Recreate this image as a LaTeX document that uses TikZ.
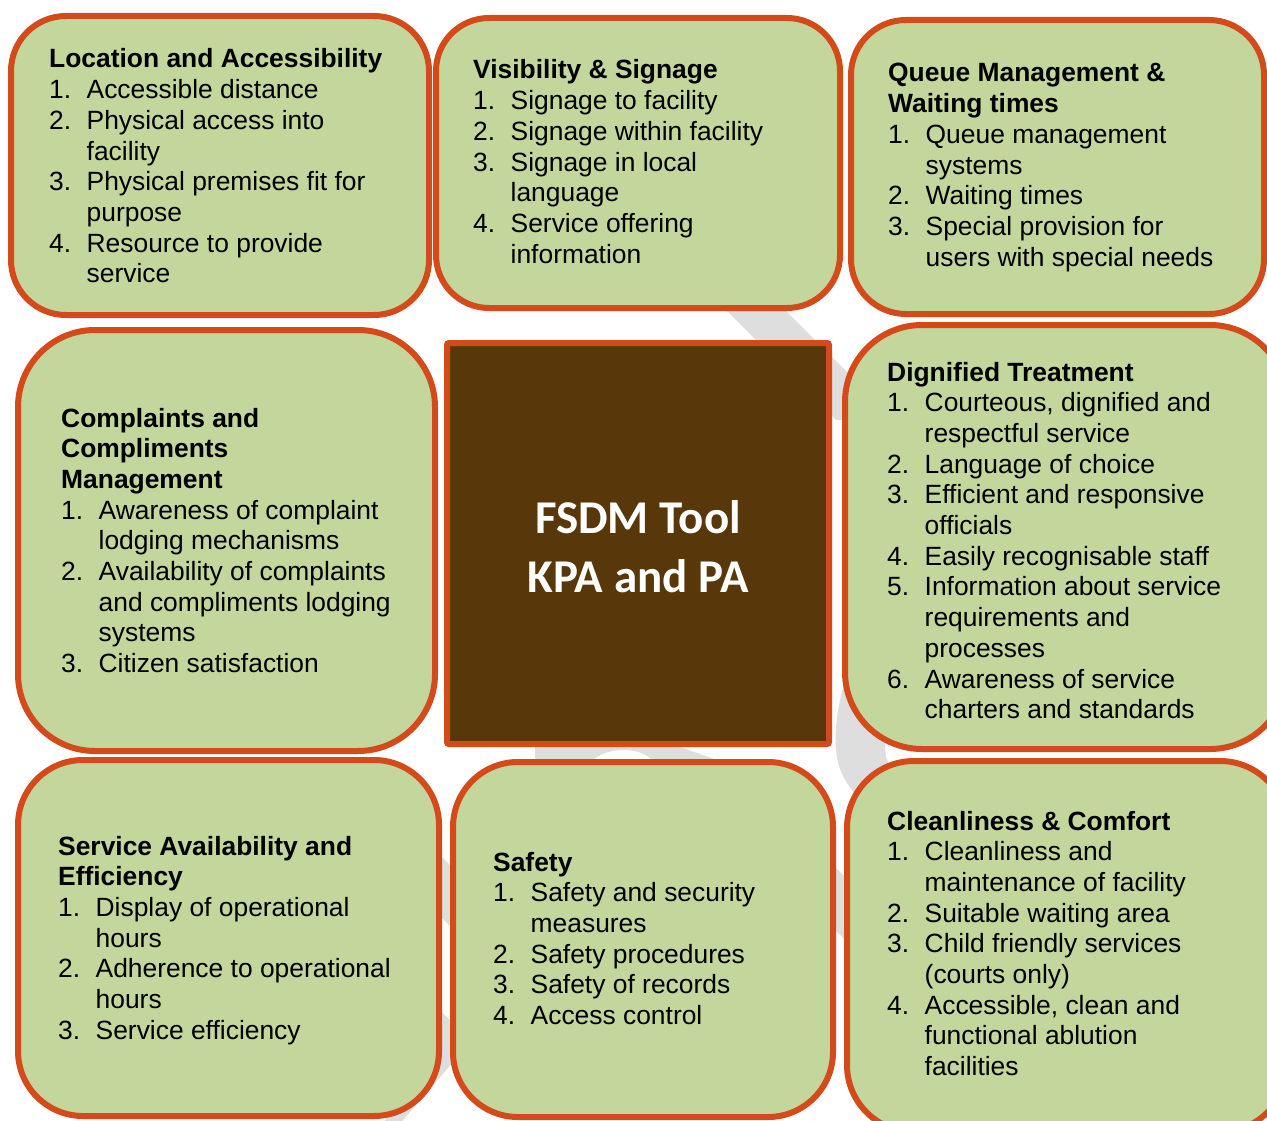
\documentclass[tikz,border=0pt]{standalone}
\usepackage{fontspec}
\setmainfont{Liberation Sans}
\newfontfamily\calibfont{Carlito}
\definecolor{kgreen}{RGB}{195,214,155}
\definecolor{korange}{RGB}{212,74,26}
\definecolor{kbrown}{RGB}{88,56,10}
\definecolor{kgray}{RGB}{222,222,222}
\newlength{\kindw}\setlength{\kindw}{37.5pt}
\newcommand{\kitem}[1]{\makebox[\kindw][l]{#1}}
\newcommand{\kcont}{\hspace*{\kindw}}
\newcommand{\kblock}[1]{\parbox[t]{430pt}{\fontsize{26.4}{30.7}\selectfont #1}}
\tikzset{
  kbox/.style={draw=korange, fill=kgreen, line width=6pt, inner sep=0pt},
  kcenter/.style={draw=korange, fill=kbrown, line width=6pt, inner sep=0pt, rounded corners=2pt},
  ktext/.style={anchor=base west, inner sep=0pt, text=black, font=\fontsize{26.4}{30.7}\selectfont},
  kbig/.style={anchor=base, inner sep=0pt, text=white, font=\calibfont\bfseries\fontsize{47}{56}\selectfont},
  kshade/.style={fill=kgray, draw=none}
}
\begin{document}
\begin{tikzpicture}[x=1pt,y=-1pt]
\useasboundingbox (0,0) rectangle (1267,1121);
\clip (0,0) rectangle (1267,1121);

% background grey band fragments
\fill[kshade] (706,290) -- (765,290) -- (895,420) -- (836,420) -- cycle;
\fill[kshade] (845,680) .. controls (838,705) and (834,730) .. (836,750)
   .. controls (838,770) and (845,782) .. (856,795) -- (905,805) -- (886,757) -- (878,680) -- cycle;
\fill[kshade] (830,862) -- (850,882) -- (850,945) -- (830,925) -- cycle;
\fill[kshade] (535,740) -- (660,740) -- (740,768) -- (657,768)
   .. controls (650,744) and (598,744) .. (587,768) -- (535,768) -- cycle;
\fill[kshade] (435,850) -- (455,870) -- (455,931) -- (435,911) -- cycle;
\fill[kshade] (435,1005) -- (456,1026) -- (456,1058) -- (448,1068) -- (398,1126) -- (380,1126) -- (430,1068) -- cycle;

% boxes
\node[kbox, rounded corners=55pt, minimum width=418pt, minimum height=299pt] (b1) at (220,165.5) {};
\node[kbox, rounded corners=53pt, minimum width=404pt, minimum height=290pt] (b2) at (638,163) {};
\node[kbox, rounded corners=55pt, minimum width=413pt, minimum height=294pt] (b3) at (1057.5,167) {};
\node[kbox, rounded corners=77pt, minimum width=417pt, minimum height=421pt] (b4) at (226.5,540.5) {};
\node[kcenter, minimum width=382pt, minimum height=401pt] (bc) at (638,543.5) {};
\node[kbox, rounded corners=77pt, minimum width=442pt, minimum height=424pt] (b6) at (1066,537) {};
\node[kbox, rounded corners=65pt, minimum width=421pt, minimum height=356pt] (b7) at (228.5,938) {};
\node[kbox, rounded corners=65pt, minimum width=380pt, minimum height=355pt] (b8) at (643,939.5) {};
\node[kbox, rounded corners=67pt, minimum width=440pt, minimum height=371pt] (b9) at (1067,946.5) {};

% centre text
\node[kbig] (c1) at (638,533) {FSDM Tool};
\node[kbig] (c2) at (638,592) {KPA and PA};

% texts
\node[ktext] (t1) at (49,68) {\kblock{\textbf{Location and Accessibility}\\
\kitem{1.}Accessible distance\\
\kitem{2.}Physical access into\\
\kcont facility\\
\kitem{3.}Physical premises fit for\\
\kcont purpose\\
\kitem{4.}Resource to provide\\
\kcont service}};

\node[ktext] (t2) at (473,79) {\kblock{\textbf{Visibility \& Signage}\\
\kitem{1.}Signage to facility\\
\kitem{2.}Signage within facility\\
\kitem{3.}Signage in local\\
\kcont language\\
\kitem{4.}Service offering\\
\kcont information}};

\node[ktext] (t3) at (888,82) {\kblock{\textbf{Queue Management \&}\\
\textbf{Waiting times}\\
\kitem{1.}Queue management\\
\kcont systems\\
\kitem{2.}Waiting times\\
\kitem{3.}Special provision for\\
\kcont users with special needs}};

\node[ktext] (t4) at (61,427) {\kblock{\textbf{Complaints and}\\
\textbf{Compliments}\\
\textbf{Management}\\
\kitem{1.}Awareness of complaint\\
\kcont lodging mechanisms\\
\kitem{2.}Availability of complaints\\
\kcont and compliments lodging\\
\kcont systems\\
\kitem{3.}Citizen satisfaction}};

\begin{scope}
\clip (842,300) rectangle (1267,718);
\node[ktext] (t6) at (887,381) {\kblock{\textbf{Dignified Treatment}\\
\kitem{1.}Courteous, dignified and\\
\kcont respectful service\\
\kitem{2.}Language of choice\\
\kitem{3.}Efficient and responsive\\
\kcont officials\\
\kitem{4.}Easily recognisable staff\\
\kitem{5.}Information about service\\
\kcont requirements and\\
\kcont processes\\
\kitem{6.}Awareness of service\\
\kcont charters and standards}};
\end{scope}

\node[ktext] (t7) at (58,855) {\kblock{\textbf{Service Availability and}\\
\textbf{Efficiency}\\
\kitem{1.}Display of operational\\
\kcont hours\\
\kitem{2.}Adherence to operational\\
\kcont hours\\
\kitem{3.}Service efficiency}};

\node[ktext] (t8) at (493,871) {\kblock{\textbf{Safety}\\
\kitem{1.}Safety and security\\
\kcont measures\\
\kitem{2.}Safety procedures\\
\kitem{3.}Safety of records\\
\kitem{4.}Access control}};

\node[ktext] (t9) at (887,830) {\kblock{\textbf{Cleanliness \& Comfort}\\
\kitem{1.}Cleanliness and\\
\kcont maintenance of facility\\
\kitem{2.}Suitable waiting area\\
\kitem{3.}Child friendly services\\
\kcont (courts only)\\
\kitem{4.}Accessible, clean and\\
\kcont functional ablution\\
\kcont facilities}};
\end{tikzpicture}
\end{document}
